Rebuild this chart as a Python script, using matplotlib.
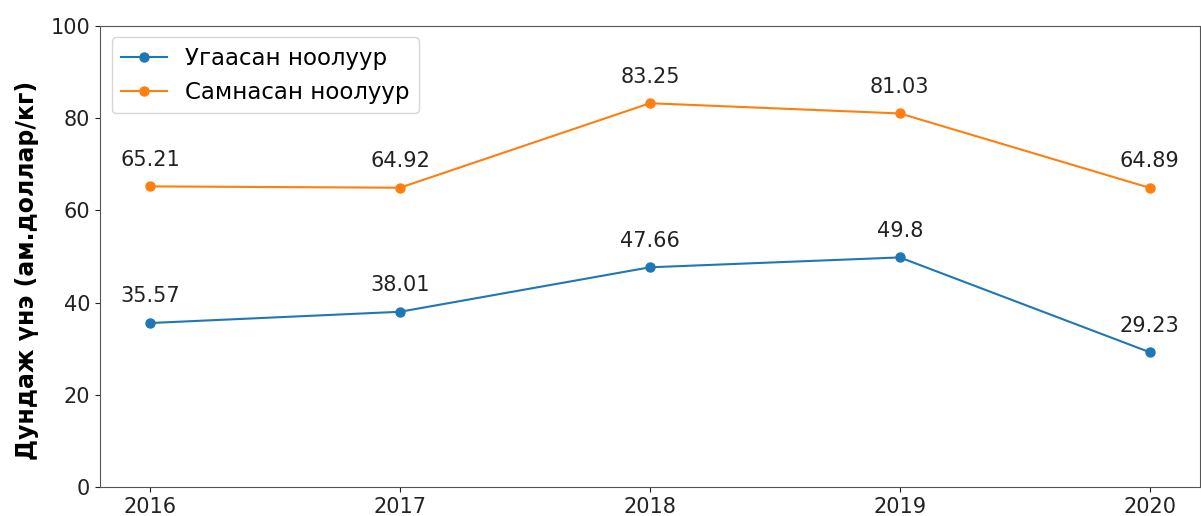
import matplotlib
matplotlib.use("Agg")
import matplotlib.pyplot as plt

years = [2016, 2017, 2018, 2019, 2020]
washed = [35.57, 38.01, 47.66, 49.8, 29.23]
combed = [65.21, 64.92, 83.25, 81.03, 64.89]
labels = ["Угаасан ноолуур", "Самнасан ноолуур"]

fig = plt.figure(figsize=(12.01, 5.16), dpi=100)
ax = fig.add_axes([0.0833, 0.0562, 0.9157, 0.8934])

ax.plot(years, washed, "o-", color="#1f77b4", label=labels[0], markersize=6.5)
ax.plot(years, combed, "o-", color="#ff7f0e", label=labels[1], markersize=6.5)

for s in (washed, combed):
    for x, y in zip(years, s):
        ax.annotate(str(y), (x, y), textcoords="offset points", xytext=(0, 12),
                    ha="center", va="bottom", fontsize=15, color="#222222")

ax.set_ylim(0, 100)
ax.set_xticks(years)
ax.tick_params(labelsize=15, colors="#222222")
for sp in ax.spines.values():
    sp.set_color("#555555")
ax.set_ylabel("Дундаж үнэ (ам.доллар/кг)", fontsize=17, fontweight="bold",
              labelpad=8, y=0.47)
ax.legend(loc="upper left", fontsize=16.5)

fig.savefig("out.png", dpi=100)
